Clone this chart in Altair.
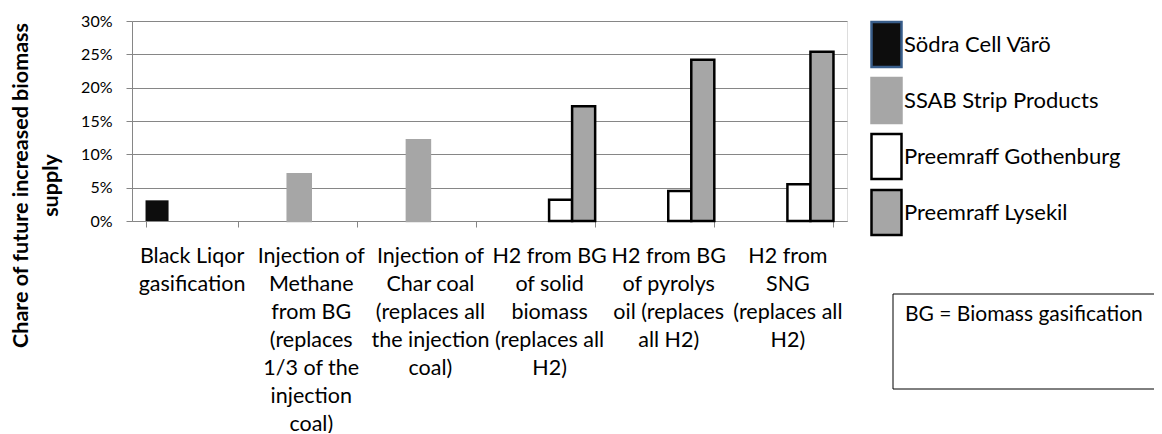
import altair as alt
import pandas as pd

categories = [
    "Black Liqor|gasification",
    "Injection of|Methane|from BG|(replaces|1/3 of the|injection|coal)",
    "Injection of|Char coal|(replaces all|the injection|coal)",
    "H2 from BG|of solid|biomass|(replaces all|H2)",
    "H2 from BG|of pyrolys|oil (replaces|all H2)",
    "H2 from|SNG|(replaces all|H2)",
]
series = ["Södra Cell Värö", "SSAB Strip Products", "Preemraff Gothenburg", "Preemraff Lysekil"]

sodra = [0.031, None, None, None, None, None]
ssab = [None, 0.070, 0.121, None, None, None]
gothenburg = [None, None, None, 0.032, 0.045, 0.055]
lysekil = [None, None, None, 0.172, 0.242, 0.254]

fill_colors = ["#0d0d0d", "#a6a6a6", "#ffffff", "#a6a6a6"]
stroke_colors = ["#385d8a", "#a6a6a6", "#000000", "#000000"]
y_ticks = [0, 0.05, 0.10, 0.15, 0.20, 0.25, 0.30]
note = ["BG = Biomass gasification"]

rows = []
for name, vals in zip(series, [sodra, ssab, gothenburg, lysekil]):
    for cat, v in zip(categories, vals):
        if v is not None:
            rows.append({"category": cat, "series": name, "value": v})
df = pd.DataFrame(rows)

FONT = "Lato"

legend_kw = dict(
    title=None,
    orient="none",
    legendX=738,
    legendY=7,
    symbolType="M-1,-1.5H1V1.5H-1Z",
    symbolSize=900,
    symbolStrokeWidth=2.5,
    symbolOpacity=1,
    labelFont=FONT,
    labelFontSize=22,
    labelColor="black",
    labelOffset=1,
    labelLimit=400,
    rowPadding=1,
    padding=0,
)

bars = alt.Chart(df).mark_bar().encode(
    x=alt.X(
        "category:N",
        sort=categories,
        scale=alt.Scale(paddingInner=0.227, paddingOuter=0.1135),
        axis=alt.Axis(
            title=None,
            labelExpr="split(datum.label, '|')",
            labelAngle=0,
            labelAlign="center",
            labelBaseline="top",
            labelLineHeight=28,
            labelPadding=18,
            labelFontSize=21.5,
            labelFont=FONT,
            labelColor="black",
            labelOverlap=False,
            labelLimit=300,
            tickBand="extent",
            tickSize=6,
            tickColor="#868686",
            domainColor="#868686",
            grid=False,
        ),
    ),
    xOffset=alt.XOffset("series:N", sort=series, scale=alt.Scale(paddingInner=0, paddingOuter=0)),
    y=alt.Y(
        "value:Q",
        scale=alt.Scale(domain=[0, 0.3], nice=False),
        axis=alt.Axis(
            values=y_ticks,
            format=".0%",
            title=["Chare of future increased biomass", "supply"],
            titleFont=FONT,
            titleFontSize=21.5,
            titleFontWeight="bold",
            titleColor="black",
            titleAngle=270,
            titleAlign="center",
            titleBaseline="middle",
            titleLineHeight=30,
            titleX=-111,
            titleY=164,
            labelFont=FONT,
            labelFontSize=16,
            labelColor="black",
            labelPadding=14,
            tickSize=6,
            tickColor="#868686",
            domainColor="#868686",
            gridColor="#868686",
            grid=True,
        ),
    ),
    fill=alt.Fill(
        "series:N",
        sort=series,
        scale=alt.Scale(domain=series, range=fill_colors),
        legend=alt.Legend(**legend_kw),
    ),
    stroke=alt.Stroke(
        "series:N",
        sort=series,
        scale=alt.Scale(domain=series, range=stroke_colors),
        legend=alt.Legend(**legend_kw),
    ),
    strokeWidth=alt.condition(
        alt.datum.series == "Södra Cell Värö", alt.value(0), alt.value(2.5)
    ),
)

note_df = pd.DataFrame({"note": note})
box = alt.Chart(note_df).mark_rect(fill="white", stroke="black", strokeWidth=1).encode(
    x=alt.value(761), x2=alt.value(1060), y=alt.value(273), y2=alt.value(368)
)
note_text = alt.Chart(note_df).mark_text(
    align="left", baseline="middle", font=FONT, fontSize=21, color="black"
).encode(x=alt.value(773), y=alt.value(294), text="note:N")

chart = alt.layer(bars, box, note_text).properties(
    width=715,
    height=200,
    autosize=alt.AutoSizeParams(type="none"),
    padding={"left": 124, "top": 13, "right": 307, "bottom": 212},
).configure_view(stroke=None).configure(background="white")

chart.save("out.html", embed_options={"renderer": "svg", "actions": False})
